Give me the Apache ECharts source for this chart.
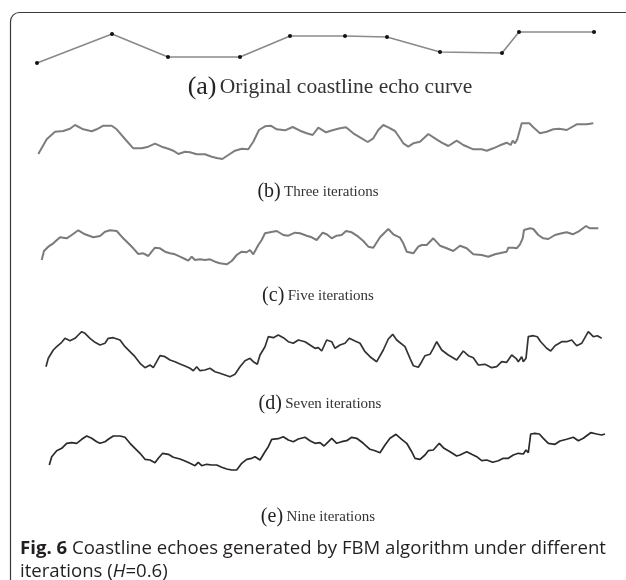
<!DOCTYPE html>
<html>
<head>
<meta charset="utf-8">
<script src="https://cdn.jsdelivr.net/npm/echarts@6/dist/echarts.min.js"></script>
<style>
html,body{margin:0;padding:0;background:#fff;}
#c{width:626px;height:580px;}
</style>
</head>
<body>
<div id="c"></div>
<script>
// Panel (a): original coastline echo curve (distance, height)
const curveA = [[1,7],[76,36],[132,13],[204,13],[254,34],[309,34],[351,33],[404,18],[466,17],[483,38],[558,38]];

// Panel (b): three iterations
const curveB = [[2.3,11],[10.7,25.7],[19,33.3],[27.3,34],[34,36.3],[39,40],[47.3,35.7],[55.7,33.7],[60.7,35.7],[67.3,39.3],[75.7,39.3],[80.7,35.7],[89,26],[97.3,16.7],[105.7,16.7],[112.3,18.3],[119,21.3],[125.7,18.3],[132.3,16.3],[137.3,14.3],[142.3,11],[149,13.3],[154,12.7],[160.7,10.7],[169,10.7],[175.7,8.3],[180.7,7],[186.3,6],[192.3,10],[199,14.3],[205.7,16.3],[212.3,15.7],[217.3,23.3],[223,35],[229,38.7],[234.7,39.3],[240.7,35.7],[249,34.7],[256.7,38],[264,34.3],[270.7,31.7],[276.7,30],[282.3,37.3],[290,32.7],[297.3,35],[304,36.7],[310,37.7],[317.3,31.7],[324,27.7],[331.7,23],[337.3,26.7],[342.3,35],[347.3,40],[352.3,37.7],[359,34],[364,26.7],[367.3,21.7],[372.3,18.3],[377.3,21.7],[384,23.3],[392.3,31],[399,26.7],[405.7,22.3],[412.3,19],[420.7,24.3],[427.3,20],[437.3,15.7],[445.7,15.7],[450.7,14.3],[457.3,16.7],[464,19.7],[470.7,22.3],[474.7,20],[476.7,24.3],[479,21.7],[481.3,25.7],[485.7,41.7],[493.3,41.7],[497.3,37.7],[504,31.7],[510.7,33.3],[517.3,35.7],[523.3,36.3],[530.7,35],[540.7,40.7],[550.7,40.7],[557.3,41.7]];

// Panel (c): five iterations
const curveC = [[5.7,10],[8,19],[12.3,23.3],[17.3,26.7],[24,32.7],[30.7,31.7],[35.7,35],[42.3,39.7],[49,35.7],[57.3,32.7],[64,34],[69,38.3],[74,39.7],[80.7,39],[85.7,33.3],[92.3,26.7],[97.3,21.7],[102.3,16],[107.3,16.7],[112.3,14],[115.7,18.3],[119,22.3],[124,21.7],[129,18.3],[134,16.7],[139,15.7],[144,13.3],[149,11],[152.3,9.3],[155.7,13.3],[159,10],[164,10.7],[169,10],[174,10.7],[179,8.3],[184,6.7],[190.7,5.7],[195.7,9],[200.7,15],[205.7,18.3],[210.7,17.7],[214,20],[217.3,15.7],[222.3,25],[225.7,30],[229,36.7],[234,37.7],[240.7,39],[247.3,35],[252.3,34.3],[259,37.3],[264,36.7],[270.7,34.3],[275.7,32.7],[280.7,30],[286.7,37.3],[290.7,35.7],[295.7,31.7],[300.7,34.3],[305.7,35],[310,39],[315.7,37.7],[322.3,33.3],[327.3,29],[332.3,23.3],[337.3,22.3],[344,32.7],[352.3,41],[357.3,35.7],[364,32.3],[367.3,26.7],[370.7,18.3],[377.3,16.7],[382.3,23.3],[385.7,25],[390.7,25],[397.3,31.7],[404,24.3],[410.7,21.7],[417.3,19],[424,24.3],[430.7,21.7],[437.3,15.7],[445.7,15],[452.3,13.3],[459,15.7],[465.7,17.3],[470.7,18.3],[472.3,22.3],[477.3,22.3],[480.7,21.7],[484,25.7],[486.7,31.7],[488,40],[494,41.7],[497.3,41],[502.3,35],[507.3,31.7],[512.3,31],[519,35],[525.7,36.7],[530.7,37.7],[536.7,35.7],[542.3,38.3],[550,44],[554,41.7],[557.3,41.7],[562.3,41.7]];

// Panel (d): seven iterations
const curveD = [[10,15.3],[12.3,23.7],[17.3,32],[20.7,35.3],[25.7,39.7],[29,43.7],[34,41.3],[39,43.7],[42.3,47],[45.7,50.3],[49,48.7],[54,43.7],[59,39.7],[64,37],[69,38.7],[72.3,43.7],[77.3,44.3],[84,42],[89,35.3],[94,30.3],[99,25.3],[104,18.7],[109,14.3],[114,17],[117.3,14.3],[120.7,20.3],[124,26.3],[129,25.3],[134,22],[139,20.3],[144,18],[149,16],[154,13.7],[157.3,11.3],[160.7,15.3],[164,11.3],[169,12],[174,13.7],[179,10.3],[184,8.7],[189,7],[194,5.3],[199,7.7],[204,15.3],[209,21.3],[214,23.7],[217.3,20.3],[221.3,17.7],[224,27],[229,35.3],[232.3,45.3],[237.3,44.3],[242.3,47],[247.3,44.3],[252.3,40.3],[257.3,38.7],[262.3,42],[264,43.7],[269,40.3],[274,37],[279,33.7],[282.3,34.3],[285.7,31],[290.7,42],[295.7,40.3],[299,33.7],[304,37],[309,38.7],[313.3,43.7],[319,41],[324,38.7],[329,30.3],[334,25.3],[340.7,20.3],[347.3,32],[352.3,43],[356.7,47.7],[360.7,42],[369,35.3],[374,23.7],[377.3,16.3],[382.3,14.7],[385.7,20.3],[389,26.3],[394,27.7],[397.3,33.7],[400.7,40.3],[405.7,32],[412.3,27],[420.7,22],[427.3,31],[432.3,26.3],[437.3,24.3],[442.3,17],[449,17.7],[455.7,14.3],[460.7,15.3],[465.7,20.3],[470.7,19.7],[475.7,27],[480,23.7],[482.3,20.3],[485.7,25.3],[487.3,20.3],[490,23.7],[492.3,45.3],[497.3,46.3],[501.3,45.3],[504.7,40.3],[510.7,33.7],[514.7,31],[519,36.3],[525.7,40.3],[530.7,40.3],[535.7,42],[540.7,36.3],[545.7,38.7],[552.3,50.3],[557.3,45.3],[561.3,46.3],[565.7,43.7]];

// Panel (e): nine iterations
const curveE = [[13.3,11],[15.7,19.3],[20.7,25.3],[25.7,27.7],[30.7,32.7],[35.7,33.3],[40.7,32.7],[45.7,36.7],[50.7,40],[55.7,37.7],[60.7,34.3],[64,32.7],[69,34.3],[72.3,36.7],[77.3,40],[84,40],[89,38.7],[94,32.7],[99,27.7],[104,22.7],[109,16.7],[114,16],[119,13.3],[122.3,17.7],[126.7,22.7],[132.3,21.7],[137.3,18.7],[144,17],[149,15],[154,12.7],[159,10.3],[162.3,13.7],[165.7,10.3],[170.7,11.7],[175.7,11],[180.7,11],[185.7,8.7],[190.7,7],[195.7,6],[200.7,6],[205.7,12.7],[210.7,16.7],[215.7,17.7],[219,19.3],[224,16],[229,24.3],[232.3,29.3],[235.7,36.7],[242.3,37.3],[247.3,39.3],[252.3,36],[257.3,34.3],[262.3,37],[264,37.7],[269,38.7],[274,35.3],[279,32.7],[284,33.3],[288,30],[290.7,32.7],[295.7,37.7],[300.7,32.7],[305.7,34.3],[310.7,35.3],[315.7,38.7],[320.7,37.7],[327.3,32.7],[334,26.7],[339,25.3],[344,23.3],[349,31],[354,37.7],[360,41.7],[365.7,36.7],[370.7,32.7],[375.7,24.3],[379,17.7],[384,16.7],[389,21],[392.3,25.3],[397.3,26],[403.3,32.7],[408,27.7],[414,24.3],[420.7,20],[424,21],[430.7,24.3],[435.7,21.7],[440.7,19.3],[445.7,15.3],[450.7,16],[456.7,13.7],[462.3,15.3],[467.3,17.7],[472.3,17.7],[477.3,21],[482.3,22.7],[487.3,22],[490,26],[492.3,23.3],[494.7,42],[499,42.7],[503.3,42],[507.3,37.7],[512.3,32.7],[519,31.7],[524,35],[530.7,36.7],[537.3,38.7],[542.3,35.3],[547.3,37.7],[554.7,43.3],[560.7,42],[565.7,41],[569,42]];

const panelLabels = ['(a)','(b)','(c)','(d)','(e)'];
const panelTitles = ['Original coastline echo curve','Three iterations','Five iterations','Seven iterations','Nine iterations'];
const figLabel = 'Fig. 6';
const figCaption1 = ' Coastline echoes generated by FBM algorithm under different';
const figCaption2a = 'iterations (';
const figCaption2b = 'H';
const figCaption2c = '=0.6)';

const curves = [curveA, curveB, curveC, curveD, curveE];
const gridTops = [10, 105, 210, 322, 416];
const lineColors = ['#8a8a8a', '#7d7d7d', '#7a7a7a', '#333333', '#2a2a2a'];
const lineWidths = [1.6, 2, 2, 1.7, 1.7];
const captionY = [87, 192, 296, 404, 517];
const captionX = [330, 318, 318, 320, 318];
const labelSize = [26, 20, 20, 20, 20];
const titleSize = [21.5, 15, 15, 15, 15];
const captionFont = 18.6;

const chart = echarts.init(document.getElementById('c'), null, {renderer: 'canvas'});

const grids = [], xAxes = [], yAxes = [], series = [];
curves.forEach((d, i) => {
  grids.push({left: 36, top: gridTops[i], width: 570, height: 60});
  xAxes.push({type: 'value', gridIndex: i, min: 0, max: 570, show: false});
  yAxes.push({type: 'value', gridIndex: i, min: 0, max: 60, show: false});
  series.push({
    type: 'line', xAxisIndex: i, yAxisIndex: i, data: d,
    showSymbol: i === 0, symbol: 'circle', symbolSize: 4,
    itemStyle: {color: '#111'},
    lineStyle: {color: lineColors[i], width: lineWidths[i]},
    animation: false, silent: true
  });
});

const graphics = [{
  type: 'rect', left: 8, top: 10,
  shape: {x: 0, y: 0, width: 700, height: 700, r: 9},
  style: {fill: 'none', stroke: '#3a3a3a', lineWidth: 1.2}, silent: true
}];
panelTitles.forEach((t, i) => {
  graphics.push({
    type: 'text', x: captionX[i], y: captionY[i],
    style: {
      text: '{l|' + panelLabels[i] + '} {t|' + t + '}',
      textAlign: 'center', textVerticalAlign: 'middle',
      fill: '#222',
      rich: {
        l: {fontFamily: 'Liberation Serif', fontSize: labelSize[i], fill: '#222'},
        t: {fontFamily: 'Liberation Serif', fontSize: titleSize[i], fill: '#333'}
      }
    }, silent: true
  });
});
graphics.push({
  type: 'text', x: 20, y: 549,
  style: {
    text: '{b|' + figLabel + '}{n|' + figCaption1 + '}',
    textVerticalAlign: 'middle', fill: '#231f20',
    rich: {
      b: {fontFamily: 'Open Sans', fontWeight: 'bold', fontSize: captionFont, fill: '#231f20'},
      n: {fontFamily: 'Open Sans', fontSize: captionFont, fill: '#231f20'}
    }
  }, silent: true
});
graphics.push({
  type: 'text', x: 20, y: 572,
  style: {
    text: '{n|' + figCaption2a + '}{i|' + figCaption2b + '}{n|' + figCaption2c + '}',
    textVerticalAlign: 'middle', fill: '#231f20',
    rich: {
      n: {fontFamily: 'Open Sans', fontSize: captionFont, fill: '#231f20'},
      i: {fontFamily: 'Open Sans', fontStyle: 'italic', fontSize: captionFont, fill: '#231f20'}
    }
  }, silent: true
});

chart.setOption({
  animation: false,
  backgroundColor: '#fff',
  grid: grids, xAxis: xAxes, yAxis: yAxes, series: series,
  graphic: graphics
});
</script>
</body>
</html>
